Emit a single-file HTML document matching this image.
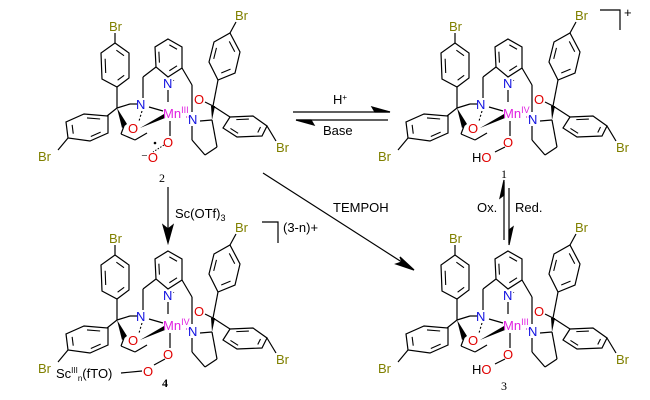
<!DOCTYPE html>
<html><head><meta charset="utf-8"><style>
html,body{margin:0;padding:0;background:#fff;}
svg{display:block;}
text{font-family:"Liberation Sans",sans-serif;font-size:13px;}
.br{fill:#808000;} .n{fill:#1010e0;} .o{fill:#e00000;} .mn{fill:#e020e0;}
.lab{font-family:"Liberation Serif",serif;font-size:12px;}
</style></head><body>
<svg id="s" width="650" height="400" viewBox="0 0 650 400" xmlns="http://www.w3.org/2000/svg">
<g id="sk0"></g><g id="sk1" transform="translate(340,0)"></g><g id="sk2" transform="translate(0,212)"></g><g id="sk3" transform="translate(340,212)"></g>

<!-- arrows -->
<g stroke="#000" stroke-width="1.2" fill="none">
<line x1="293" y1="112" x2="390" y2="112"/><path d="M390,112 L372,107 L375,112 Z" fill="#000"/>
<line x1="296" y1="120" x2="388" y2="120"/><path d="M296,120 L314,125 L311,120 Z" fill="#000"/>
<line x1="504" y1="240" x2="504" y2="182"/><path d="M504,180 L500,198 L504,195 Z" fill="#000"/>
<line x1="509" y1="188" x2="509" y2="243"/><path d="M509,245 L513,227 L509,230 Z" fill="#000"/>
<line x1="168" y1="187" x2="168" y2="232"/><path d="M168,243 L163,225 L168,229 L173,225 Z" fill="#000"/>
<line x1="263" y1="173" x2="408" y2="266"/><path d="M414,270 L400,257 L402,262 L396,264 Z" fill="#000"/>
<polyline points="262,222 278,222 278,243"/>
<polyline points="600,10 620,10 620,30"/>
</g>
<text x="333" y="104">H<tspan font-size="8" dy="-4">+</tspan></text>
<text x="323" y="135">Base</text>
<text x="477" y="212">Ox.</text>
<text x="515" y="212">Red.</text>
<text x="175" y="218">Sc(OTf)<tspan font-size="9" dy="3">3</tspan></text>
<text x="283" y="232">(3-n)+</text>
<text x="624" y="17">+</text>
<text x="333" y="212">TEMPOH</text>

<!-- molecule 2 (top-left) -->
<g>
<text class="br" x="109" y="31">Br</text>
<text class="br" x="38" y="161">Br</text>
<text class="br" x="235" y="20">Br</text>
<text class="br" x="276" y="152">Br</text>
<text class="n" x="163" y="88">N<tspan font-size="8" dy="-5" fill="#000">·</tspan></text>
<text class="n" x="136" y="109">N</text>
<text class="n" x="188" y="124">N</text>
<text class="mn" x="163" y="118">Mn<tspan font-size="9" dy="-5">III</tspan></text>
<text class="o" x="128" y="133">O</text>
<text class="o" x="194" y="104">O</text>
<text class="o" x="163" y="147">O</text>
<text class="o" x="141" y="162"><tspan fill="#000">⁻</tspan>O</text>
<text class="lab" x="159" y="182">2</text>
</g>
<!-- molecule 1 (top-right) -->
<g>
<text class="br" x="449" y="31">Br</text>
<text class="br" x="378" y="161">Br</text>
<text class="br" x="575" y="20">Br</text>
<text class="br" x="616" y="152">Br</text>
<text class="n" x="503" y="88">N<tspan font-size="8" dy="-5" fill="#000">·</tspan></text>
<text class="n" x="476" y="109">N</text>
<text class="n" x="528" y="124">N</text>
<text class="mn" x="503" y="118">Mn<tspan font-size="9" dy="-5">IV</tspan></text>
<text class="o" x="468" y="133">O</text>
<text class="o" x="534" y="104">O</text>
<text class="o" x="503" y="147">O</text>
<text x="472" y="162">H<tspan class="o">O</tspan></text>
<text class="lab" x="501" y="178">1</text>
</g>
<!-- molecule 4 (bottom-left) -->
<g>
<text class="br" x="109" y="243">Br</text>
<text class="br" x="38" y="373">Br</text>
<text class="br" x="235" y="232">Br</text>
<text class="br" x="276" y="364">Br</text>
<text class="n" x="163" y="300">N<tspan font-size="8" dy="-5" fill="#000">·</tspan></text>
<text class="n" x="136" y="321">N</text>
<text class="n" x="188" y="336">N</text>
<text class="mn" x="163" y="330">Mn<tspan font-size="9" dy="-5">IV</tspan></text>
<text class="o" x="128" y="345">O</text>
<text class="o" x="194" y="316">O</text>
<text class="o" x="163" y="359">O</text>
<text class="o" x="143" y="376">O</text>
<text x="56" y="378">Sc<tspan font-size="8" dy="-5">III</tspan><tspan font-size="8" dy="8">n</tspan><tspan dy="-3">(fTO)</tspan></text>
<text class="lab" x="162" y="387" font-weight="bold">4</text>
</g>
<!-- molecule 3 (bottom-right) -->
<g>
<text class="br" x="449" y="243">Br</text>
<text class="br" x="378" y="373">Br</text>
<text class="br" x="575" y="232">Br</text>
<text class="br" x="616" y="364">Br</text>
<text class="n" x="503" y="300">N<tspan font-size="8" dy="-5" fill="#000">·</tspan></text>
<text class="n" x="476" y="321">N</text>
<text class="n" x="528" y="336">N</text>
<text class="mn" x="503" y="330">Mn<tspan font-size="9" dy="-5">III</tspan></text>
<text class="o" x="468" y="345">O</text>
<text class="o" x="534" y="316">O</text>
<text class="o" x="503" y="359">O</text>
<text x="472" y="374">H<tspan class="o">O</tspan></text>
<text class="lab" x="501" y="390">3</text>
</g>
</svg>
<script>
var NS="http://www.w3.org/2000/svg";
var rings=[
 [[115,43],[129,53],[129,78],[117,87],[102,79],[101,53]],
 [[84,114],[108,116],[108,133],[90,141],[68,138],[66,122]],
 [[168,39],[182,47],[182,68],[168,77],[156,67],[155,47]],
 [[230,33],[240,52],[235,73],[218,80],[209,62],[214,42]],
 [[230,117],[253,116],[267,126],[262,136],[237,137],[223,128]]
];
var segs=[
 [115,43,115,33],[117,87,117,108],[117,108,107,116],[68,138,58,150],
 [156,67,143,77],[143,77,143,98],[182,68,192,85],[192,85,192,112],
 [168,90,168,102],[149,107,163,111],[117,108,130,104],[130,104,137,104],
 [170,121,170,136],[205,102,213,106],[213,106,218,80],[213,106,230,117],
 [230,33,236,22],[267,126,276,141],
 [192,126,192,140],[192,140,205,155],[205,155,217,147],[217,147,212,120],[200,121,212,120],
 [124,126,121,134],[121,134,135,140],[135,140,147,133]
];
function mk(g,tag,attrs){var e=document.createElementNS(NS,tag);for(var k in attrs)e.setAttribute(k,attrs[k]);g.appendChild(e);return e;}
function draw(g,idx){
 rings.forEach(function(v){
  mk(g,"polygon",{points:v.map(function(p){return p.join(",")}).join(" "),fill:"none",stroke:"#000","stroke-width":1.2});
  var cx=0,cy=0;v.forEach(function(p){cx+=p[0];cy+=p[1]});cx/=6;cy/=6;
  [0,2,4].forEach(function(i){var a=v[i],b=v[(i+1)%6];
   function s(p){return [cx+(p[0]-cx)*0.72,cy+(p[1]-cy)*0.72];}
   var A=s(a),B=s(b),dx=B[0]-A[0],dy=B[1]-A[1];
   mk(g,"line",{x1:A[0]+dx*0.12,y1:A[1]+dy*0.12,x2:B[0]-dx*0.12,y2:B[1]-dy*0.12,stroke:"#000","stroke-width":1.1});
  });
 });
 segs.forEach(function(s){mk(g,"line",{x1:s[0],y1:s[1],x2:s[2],y2:s[3],stroke:"#000","stroke-width":1.2});});
 mk(g,"polygon",{points:"117,108 122,128 127,124",fill:"#000"});
 mk(g,"polygon",{points:"140,128 164,114 165,118",fill:"#000"});
 mk(g,"polygon",{points:"212,120 211,106 215,106",fill:"#000"});
 mk(g,"line",{x1:142,y1:111,x2:139,y2:121,stroke:"#000","stroke-width":1.1,"stroke-dasharray":"2,2"});
 mk(g,"line",{x1:186,y1:117,x2:190,y2:117,stroke:"#d040d0","stroke-width":1.2,"stroke-dasharray":"1,1.5"});
 if(idx==0){
  mk(g,"line",{x1:164,y1:145,x2:153,y2:152,stroke:"#000","stroke-width":1,"stroke-dasharray":"1.5,1.5"});
  mk(g,"circle",{cx:155,cy:143,r:1.3,fill:"#000"});
 } else if(idx==2){
  mk(g,"line",{x1:165,y1:147,x2:154,y2:153,stroke:"#000","stroke-width":1.2});
  mk(g,"line",{x1:121,y1:161,x2:142,y2:159,stroke:"#000","stroke-width":1.2});
 } else {
  mk(g,"line",{x1:165,y1:147,x2:155,y2:152,stroke:"#000","stroke-width":1.2});
 }
}
for(var i=0;i<4;i++)draw(document.getElementById("sk"+i),i);
</script>
</body></html>
